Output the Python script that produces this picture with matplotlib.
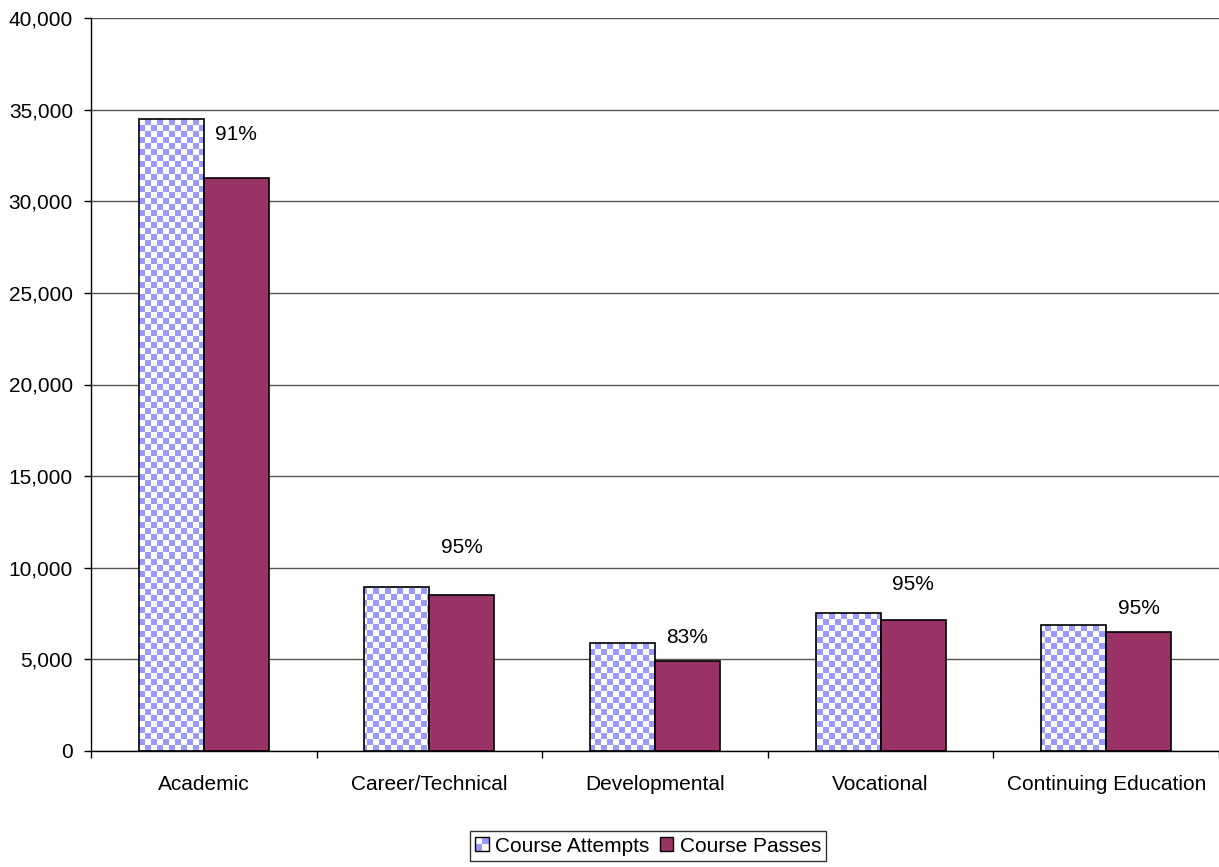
import numpy as np
import matplotlib
matplotlib.use("Agg")
import matplotlib.pyplot as plt
from matplotlib.patches import Rectangle
from matplotlib.legend_handler import HandlerBase
from matplotlib.ticker import FuncFormatter
from matplotlib.colors import ListedColormap

categories = ["Academic", "Career/Technical", "Developmental", "Vocational", "Continuing Education"]
attempts = [34500, 8950, 5880, 7520, 6870]
passes = [31250, 8500, 4900, 7140, 6490]
pass_rates = ["91%", "95%", "83%", "95%", "95%"]
label_offsets = [2400, 2630, 1290, 1920, 1310]
yticks = list(range(0, 40001, 5000))

plt.rcParams['font.family'] = ['Liberation Sans', 'DejaVu Sans']
ATT_COLOR = '#9999FF'
PASS_COLOR = '#993366'
FS = 15

fig = plt.figure(figsize=(12.19, 8.67), dpi=100)
ax = fig.add_axes([91/1219, 116/867, 1128/1219, 733/867])

x = np.arange(len(categories))
w = 0.288
bars_att = ax.bar(x - w/2, attempts, w, facecolor='none', edgecolor='black', linewidth=1.2, zorder=3)
bars_pass = ax.bar(x + w/2, passes, w, facecolor=PASS_COLOR, edgecolor='black', linewidth=1.2, zorder=3)

ax.set_xlim(-0.5, len(categories) - 0.5)
ax.set_ylim(0, 40000)

# checkerboard fill for attempts bars
nx, ny = 188, 122
ii, jj = np.meshgrid(np.arange(nx), np.arange(ny))
checker = ((ii + jj) % 2).astype(float)
cmap = ListedColormap(['white', ATT_COLOR])
for b in bars_att:
    im = ax.imshow(checker, cmap=cmap, extent=[-0.5, len(categories) - 0.5, 0, 40000],
                   aspect='auto', interpolation='nearest', zorder=2.5, origin='lower')
    im.set_clip_path(b)
ax.set_xlim(-0.5, len(categories) - 0.5)
ax.set_ylim(0, 40000)

# percent labels
for i, (p, r, off) in enumerate(zip(passes, pass_rates, label_offsets)):
    ax.text(i + w/2, p + off, r, ha='center', va='center', fontsize=FS, zorder=4)

# grid
ax.set_yticks(yticks)
ax.yaxis.set_major_formatter(FuncFormatter(lambda v, pos: f"{int(v):,}"))
ax.yaxis.grid(True, color='#555555', linewidth=1, zorder=0)
ax.set_axisbelow(True)
ax.tick_params(axis='y', direction='out', length=5, width=1, labelsize=FS, pad=8, colors='black')

# x ticks: boundaries major, labels minor
ax.set_xticks(np.arange(-0.5, len(categories) + 0.5, 1.0))
ax.set_xticklabels([])
ax.set_xticks(x, minor=True)
ax.set_xticklabels(categories, minor=True, fontsize=FS)
ax.tick_params(axis='x', which='major', direction='out', length=5, width=1)
ax.tick_params(axis='x', which='minor', length=0, pad=17)

for s in ['top', 'right']:
    ax.spines[s].set_visible(False)
ax.spines['left'].set_linewidth(1)
ax.spines['bottom'].set_linewidth(1)


class CheckerHandler(HandlerBase):
    def create_artists(self, legend, orig_handle, xdescent, ydescent, width, height, fontsize, trans):
        arts = []
        s = min(width, height)
        x0 = -xdescent + (width - s) / 2
        y0 = -ydescent + (height - s) / 2
        h = s / 2
        cols = [[ATT_COLOR, 'white'], ['white', ATT_COLOR]]
        for r in range(2):
            for c in range(2):
                arts.append(Rectangle((x0 + c*h, y0 + r*h), h, h, facecolor=cols[r][c],
                                      edgecolor='none', transform=trans))
        arts.append(Rectangle((x0, y0), s, s, facecolor='none', edgecolor='black',
                              linewidth=1, transform=trans))
        return arts


class SquareHandler(HandlerBase):
    def create_artists(self, legend, orig_handle, xdescent, ydescent, width, height, fontsize, trans):
        s = min(width, height)
        x0 = -xdescent + (width - s) / 2
        y0 = -ydescent + (height - s) / 2
        return [Rectangle((x0, y0), s, s, facecolor=PASS_COLOR, edgecolor='black',
                          linewidth=1, transform=trans)]


h1 = Rectangle((0, 0), 1, 1)
h2 = Rectangle((0, 0), 1, 1)
leg = fig.legend([h1, h2], ["Course Attempts", "Course Passes"],
                 handler_map={h1: CheckerHandler(), h2: SquareHandler()},
                 loc='center', bbox_to_anchor=(648/1219, 1 - 846/867), ncol=2,
                 fontsize=FS, frameon=True, fancybox=False, edgecolor='black',
                 handlelength=0.65, handleheight=0.65, handletextpad=0.3, columnspacing=0.5,
                 borderpad=0.25, borderaxespad=0)
leg.get_frame().set_linewidth(1)

fig.savefig("out.png", dpi=100, facecolor='white')
